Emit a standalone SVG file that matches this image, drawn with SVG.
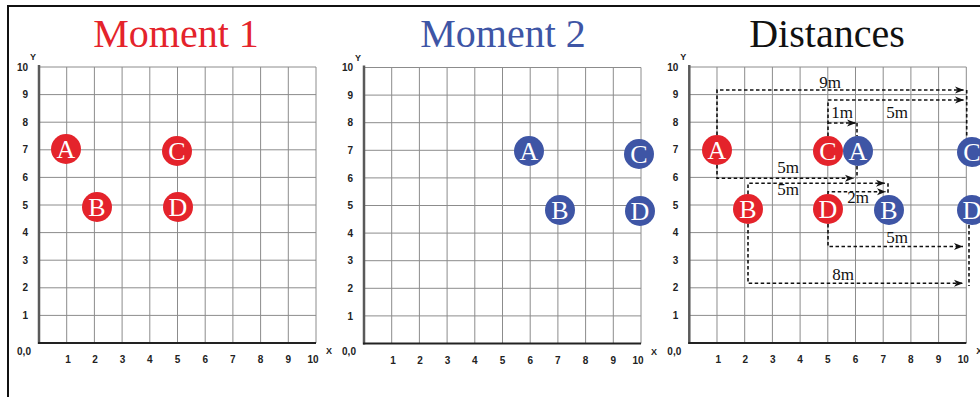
<svg xmlns="http://www.w3.org/2000/svg" xmlns:xlink="http://www.w3.org/1999/xlink" width="980" height="397" viewBox="0 0 980 397">
<style>
.title{font-family:"Liberation Serif","Times New Roman",serif;font-size:40px;text-anchor:middle}
.gl{stroke:#8c8c8c;stroke-width:1;fill:none}
.yax{stroke:#5a5a5a;stroke-width:2.5}
.xax{stroke:#222;stroke-width:2}
.tick{font-family:"Liberation Sans",Arial,sans-serif;font-weight:bold;font-size:10px;fill:#222}
.ax{font-family:"Liberation Sans",Arial,sans-serif;font-weight:bold;font-size:9px;fill:#222}
.red{fill:#e4232b}
.blue{fill:#3e55a5}
.lt{font-family:"Liberation Serif","Times New Roman",serif;font-size:26px;fill:#fff;text-anchor:middle}
.dash{stroke:#111;stroke-width:1.6;stroke-dasharray:3.5 2.5;fill:none}
.dl{font-family:"Liberation Serif","Times New Roman",serif;font-size:17px;fill:#111;text-anchor:middle}
</style>
<defs>
<marker id="arr" markerUnits="userSpaceOnUse" markerWidth="10" markerHeight="8" refX="9" refY="4" orient="auto">
<path d="M0,0.5 L9,4 L0,7.5 L2.5,4 z" fill="#111"/>
</marker>
<g id="grid">
<path class="gl" d="M27.7,0V276M55.4,0V276M83.1,0V276M110.8,0V276M138.5,0V276M166.2,0V276M193.9,0V276M221.6,0V276M249.3,0V276M277,0V276M0,0H277M0,27.6H277M0,55.2H277M0,82.8H277M0,110.4H277M0,138H277M0,165.6H277M0,193.2H277M0,220.8H277M0,248.4H277"/>
<line class="yax" x1="0" y1="-2" x2="0" y2="277"/>
<line class="xax" x1="-1" y1="276" x2="277" y2="276"/>
<g class="tick" text-anchor="end">
<text x="-11" y="3.6">10</text><text x="-11" y="31.2">9</text><text x="-11" y="58.8">8</text><text x="-11" y="86.4">7</text><text x="-11" y="114">6</text><text x="-11" y="141.6">5</text><text x="-11" y="169.2">4</text><text x="-11" y="196.8">3</text><text x="-11" y="224.4">2</text><text x="-11" y="252">1</text>
</g>
<g class="tick" text-anchor="middle">
<text x="-15" y="287.5">0,0</text>
<text x="29" y="296">1</text><text x="56" y="296">2</text><text x="83.5" y="296">3</text><text x="110.8" y="296">4</text><text x="138.5" y="296">5</text><text x="166.2" y="296">6</text><text x="193.9" y="296">7</text><text x="221.6" y="296">8</text><text x="249.3" y="296">9</text><text x="274" y="296">10</text>
</g>
<text class="ax" x="-6" y="-7" text-anchor="middle">Y</text>
<text class="ax" x="290" y="287" text-anchor="middle">X</text>
</g>
</defs>
<rect width="980" height="397" fill="#fff"/>
<path d="M7,6H980M8,5V397" stroke="#111" stroke-width="2" fill="none"/>

<g id="panel1">
<text class="title" x="176" y="47" fill="#e4232b">Moment 1</text>
<use xlink:href="#grid" transform="translate(39,67)"/>
</g>
<g id="panel2">
<text class="title" x="503" y="47" fill="#3e55a5">Moment 2</text>
<use xlink:href="#grid" transform="translate(364,67.5)"/>
</g>
<g id="panel3">
<text class="title" x="827" y="47" fill="#111">Distances</text>
<use xlink:href="#grid" transform="translate(689.3,67)"/>
</g>

<g id="connectors">
<path class="dash" d="M717,135V90H964" marker-end="url(#arr)"/>
<path class="dash" d="M966.7,90V137"/>
<path class="dash" d="M828,136V100H964" marker-end="url(#arr)"/>
<path class="dash" d="M828,123H856" marker-end="url(#arr)"/>
<path class="dash" d="M857,123V136"/>
<path class="dash" d="M717,165V178.3H854" marker-end="url(#arr)"/>
<path class="dash" d="M857,166V178.3"/>
<path class="dash" d="M748,194V183.3H885" marker-end="url(#arr)"/>
<path class="dash" d="M888,183.3V194"/>
<path class="dash" d="M828,194V191.7H886" marker-end="url(#arr)"/>
<path class="dash" d="M828,224V246.5H963" marker-end="url(#arr)"/>
<path class="dash" d="M969,225V286"/>
<path class="dash" d="M748,224V283.3H963" marker-end="url(#arr)"/>
<text class="dl" x="830" y="88">9m</text>
<text class="dl" x="842" y="118">1m</text>
<text class="dl" x="897" y="118">5m</text>
<text class="dl" x="788" y="173">5m</text>
<text class="dl" x="788" y="195">5m</text>
<text class="dl" x="858" y="203">2m</text>
<text class="dl" x="897" y="243">5m</text>
<text class="dl" x="843" y="280">8m</text>
</g>

<g id="m1-A"><circle class="red" cx="66" cy="149" r="15"/><text class="lt" x="66" y="158">A</text></g>
<g id="m1-C"><circle class="red" cx="177" cy="151" r="15"/><text class="lt" x="177" y="160">C</text></g>
<g id="m1-B"><circle class="red" cx="97" cy="207" r="15"/><text class="lt" x="97" y="216">B</text></g>
<g id="m1-D"><circle class="red" cx="178" cy="207" r="15"/><text class="lt" x="178" y="216">D</text></g>

<g id="m2-A"><circle class="blue" cx="529" cy="151" r="15"/><text class="lt" x="529" y="160">A</text></g>
<g id="m2-C"><circle class="blue" cx="639" cy="154" r="15"/><text class="lt" x="639" y="163">C</text></g>
<g id="m2-B"><circle class="blue" cx="560" cy="210" r="15"/><text class="lt" x="560" y="219">B</text></g>
<g id="m2-D"><circle class="blue" cx="640" cy="211" r="15"/><text class="lt" x="640" y="220">D</text></g>

<g id="d-A1"><circle class="red" cx="717" cy="150" r="15"/><text class="lt" x="717" y="159">A</text></g>
<g id="d-C1"><circle class="red" cx="828" cy="151" r="15"/><text class="lt" x="828" y="160">C</text></g>
<g id="d-A2"><circle class="blue" cx="858" cy="151" r="15"/><text class="lt" x="858" y="160">A</text></g>
<g id="d-C2"><circle class="blue" cx="972" cy="152" r="15"/><text class="lt" x="972" y="161">C</text></g>
<g id="d-B1"><circle class="red" cx="748" cy="209" r="15"/><text class="lt" x="748" y="218">B</text></g>
<g id="d-D1"><circle class="red" cx="828" cy="209" r="15"/><text class="lt" x="828" y="218">D</text></g>
<g id="d-B2"><circle class="blue" cx="889" cy="210" r="15"/><text class="lt" x="889" y="219">B</text></g>
<g id="d-D2"><circle class="blue" cx="972" cy="210" r="15"/><text class="lt" x="972" y="219">D</text></g>
</svg>
